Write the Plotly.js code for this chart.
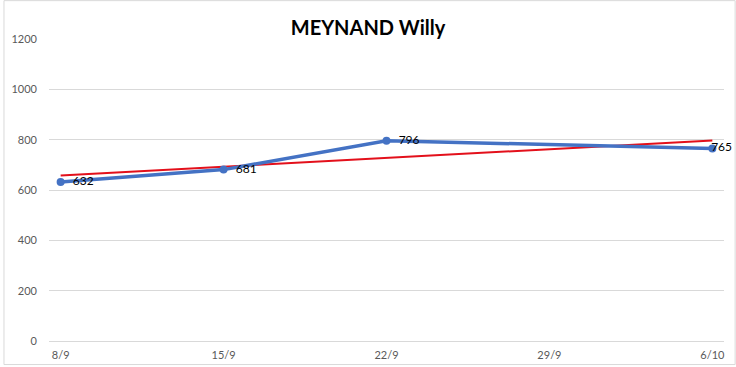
<!DOCTYPE html>
<html>
<head>
<meta charset="utf-8">
<script src="https://cdn.plot.ly/plotly-3.0.1.min.js"></script>
<style>html,body{margin:0;padding:0;background:#fff;}#chart{width:736px;height:367px;}</style>
</head>
<body>
<div id="chart"></div>
<script>
const dates = ['2024-09-08', '2024-09-15', '2024-09-22', '2024-10-06'];
const values = [632, 681, 796, 765];
const labels = ['  632', '  681', '  796', '      765'];
const trendDates = ['2024-09-08', '2024-10-06'];
const trendValues = [658, 797];
const tickDates = ['2024-09-08', '2024-09-15', '2024-09-22', '2024-09-29', '2024-10-06'];
const tickLabels = ['8/9', '15/9', '22/9', '29/9', '6/10'];
const yTicks = [0, 200, 400, 600, 800, 1000, 1200];

const traces = [
  {
    x: trendDates, y: trendValues, mode: 'lines', type: 'scatter',
    line: {color: '#e3101b', width: 2}, hoverinfo: 'skip', showlegend: false
  },
  {
    x: dates, y: values, mode: 'lines+markers+text', type: 'scatter',
    text: labels, textposition: ['middle right', 'middle right', 'middle right', 'middle center'],
    cliponaxis: false,
    textfont: {family: 'Lato, "DejaVu Sans", sans-serif', size: 12, color: '#000'},
    line: {color: '#4472C4', width: 3.5}, marker: {color: '#4472C4', size: 8},
    showlegend: false
  }
];

const layout = {
  width: 736, height: 367,
  margin: {l: 49, r: 12, t: 39, b: 26},
  paper_bgcolor: '#fff', plot_bgcolor: '#fff',
  title: {text: 'MEYNAND Willy', x: 0.5, xanchor: 'center', y: 0.925, yanchor: 'middle',
    font: {family: 'Lato, "Open Sans", sans-serif', size: 20, color: '#000', weight: 'bold'}},
  xaxis: {
    type: 'date', range: ['2024-09-07 12:00', '2024-10-06 12:00'],
    tickvals: tickDates, ticktext: tickLabels,
    showgrid: false, zeroline: false, showline: false,
    ticks: '', ticklabelstandoff: 6,
    tickfont: {family: 'Lato, "DejaVu Sans", sans-serif', size: 11, color: '#595959'},
    fixedrange: true
  },
  yaxis: {
    range: [0, 1200], tickvals: yTicks, ticktext: yTicks.map(String),
    showgrid: true, gridcolor: '#d9d9d9', gridwidth: 1,
    zeroline: true, zerolinecolor: '#d9d9d9', zerolinewidth: 1, showline: false,
    ticks: '', ticklabelstandoff: 11,
    tickfont: {family: 'Lato, "DejaVu Sans", sans-serif', size: 11, color: '#595959'},
    fixedrange: true
  },
  shapes: [
    {type: 'rect', xref: 'paper', yref: 'paper', x0: -0.0667, x1: 1.0165, y0: -0.078, y1: 1.127,
     line: {color: '#d9d9d9', width: 1}, fillcolor: 'rgba(0,0,0,0)'}
  ]
};

Plotly.newPlot('chart', traces, layout, {displayModeBar: false, staticPlot: true});
</script>
</body>
</html>
